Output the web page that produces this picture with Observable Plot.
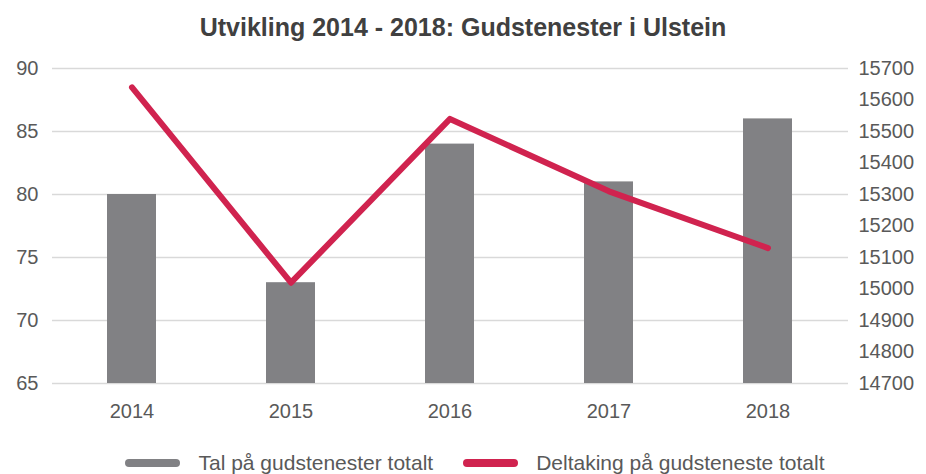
<!DOCTYPE html>
<html>
<head>
<meta charset="utf-8">
<script src="https://cdn.jsdelivr.net/npm/d3@7"></script>
<script src="https://cdn.jsdelivr.net/npm/@observablehq/plot@0.6"></script>
<style>
  body { margin: 0; background: #fff; font-family: "Liberation Sans", Arial, sans-serif; }
  #title { height: 50px; line-height: 54px; text-align: center; font-weight: bold; font-size: 25px; color: #404040; }
  #legend { display: flex; justify-content: center; align-items: center; height: 56px; font-size: 21px; color: #595959; padding-left: 24px; }
  .item { display: flex; align-items: center; }
  .sw { width: 55px; height: 8px; border-radius: 4px; margin-right: 18px; }
</style>
</head>
<body>
<div id="title">Utvikling 2014 - 2018: Gudstenester i Ulstein</div>
<div id="chart" style="height:385px"></div>
<div id="legend">
  <div class="item"><div class="sw" style="background:#818184"></div><span>Tal på gudstenester totalt</span></div>
  <div class="item" style="margin-left:30px"><div class="sw" style="background:#d0234f"></div><span>Deltaking på gudsteneste totalt</span></div>
</div>
<script>
const years = ["2014", "2015", "2016", "2017", "2018"];
const services = [80, 73, 84, 81, 86];
const attendance = [15640, 15020, 15540, 15310, 15130];
const leftTicks = [65, 70, 75, 80, 85, 90];
const rightTicks = [14700, 14800, 14900, 15000, 15100, 15200, 15300, 15400, 15500, 15600, 15700];

const leftMin = 65, leftMax = 90, rightMin = 14700, rightMax = 15700;
const toLeft = v => leftMin + (v - rightMin) / (rightMax - rightMin) * (leftMax - leftMin);
const toRight = d => String(Math.round(rightMin + (d - leftMin) / (leftMax - leftMin) * (rightMax - rightMin)));

const bars = years.map((y, i) => ({year: y, value: services[i]}));
const line = years.map((y, i) => ({year: y, value: toLeft(attendance[i])}));

const chart = Plot.plot({
  width: 926,
  height: 385,
  marginTop: 18,
  marginBottom: 52,
  marginLeft: 52,
  marginRight: 78,
  style: {fontFamily: "'Liberation Sans', Arial, sans-serif", fontSize: "20px", color: "#595959", background: "#fff"},
  x: {domain: years, paddingInner: 0.69, paddingOuter: 0.345, label: null},
  y: {domain: [leftMin, leftMax], label: null},
  marks: [
    Plot.gridY(leftTicks, {stroke: "#d9d9d9", strokeOpacity: 1, strokeWidth: 1.5}),
    Plot.axisX({tickSize: 0, tickPadding: 20, fontSize: 20}),
    Plot.axisY(leftTicks, {anchor: "left", tickSize: 0, tickPadding: 14, fontSize: 20, label: null}),
    Plot.axisY(rightTicks.map(toLeft), {anchor: "right", tickSize: 0, tickPadding: 10, fontSize: 20, textAnchor: "start", tickFormat: toRight, label: null}),
    Plot.barY(bars, {x: "year", y1: leftMin, y2: "value", fill: "#818184"}),
    Plot.line(line, {x: "year", y: "value", stroke: "#d0234f", strokeWidth: 6, strokeLinecap: "round", strokeLinejoin: "round"})
  ]
});
document.getElementById("chart").appendChild(chart);
</script>
</body>
</html>
